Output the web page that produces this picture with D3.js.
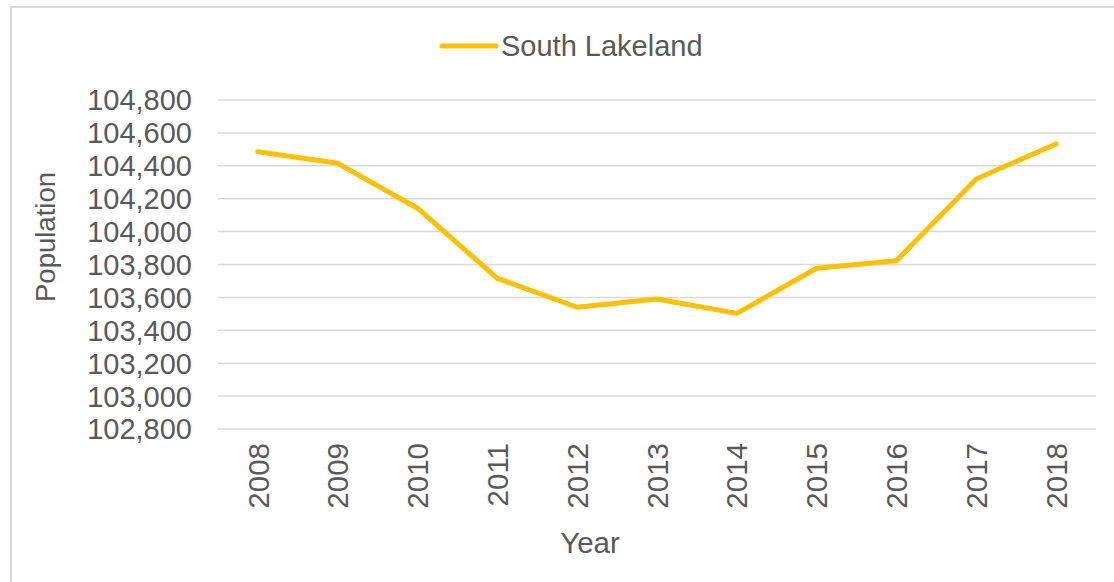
<!DOCTYPE html>
<html>
<head>
<meta charset="utf-8">
<script src="https://cdn.jsdelivr.net/npm/d3@7"></script>
<style>
  body { margin: 0; background: #fff; }
  text { font-family: "Liberation Sans", Arial, sans-serif; fill: #595959; }
</style>
</head>
<body>
<script>
var width = 1114,
    height = 582;

var years = ["2008", "2009", "2010", "2011", "2012", "2013", "2014", "2015", "2016", "2017", "2018"];
var population = [104486, 104415, 104142, 103716, 103540, 103590, 103503, 103777, 103823, 104320, 104533];
var yTicks = [102800, 103000, 103200, 103400, 103600, 103800, 104000, 104200, 104400, 104600, 104800];
var seriesName = "South Lakeland";

var plotLeft = 218, plotRight = 1096, plotTop = 100, plotBottom = 429;

var svg = d3.select("body").append("svg")
    .attr("width", width)
    .attr("height", height);

// chart frame
svg.append("rect")
    .attr("x", 11).attr("y", 7)
    .attr("width", width + 20).attr("height", height + 20)
    .attr("fill", "none")
    .attr("stroke", "#d9d9d9")
    .attr("stroke-width", 2);

var x = d3.scaleBand().domain(years).range([plotLeft, plotRight]);
var y = d3.scaleLinear().domain([102800, 104800]).range([plotBottom, plotTop]);

// gridlines
svg.append("g").selectAll("line")
    .data(yTicks)
    .enter().append("line")
    .attr("x1", plotLeft).attr("x2", plotRight)
    .attr("y1", function(d) { return y(d); })
    .attr("y2", function(d) { return y(d); })
    .attr("stroke", "#d9d9d9")
    .attr("stroke-width", 1.5);

// y axis labels
var fmt = d3.format(",");
svg.append("g").selectAll("text")
    .data(yTicks)
    .enter().append("text")
    .attr("x", 192)
    .attr("y", function(d) { return y(d); })
    .attr("dy", "0.36em")
    .attr("text-anchor", "end")
    .attr("font-size", 29)
    .text(function(d) { return fmt(d); });

// x axis labels
svg.append("g").selectAll("text")
    .data(years)
    .enter().append("text")
    .attr("transform", function(d) {
        return "translate(" + (x(d) + x.bandwidth() / 2) + ",443) rotate(-90)";
    })
    .attr("dy", "0.36em")
    .attr("text-anchor", "end")
    .attr("font-size", 29.5)
    .text(function(d) { return d; });

// axis titles
svg.append("text")
    .attr("transform", "translate(55,237) rotate(-90)")
    .attr("text-anchor", "middle")
    .attr("font-size", 27.5)
    .text("Population");

svg.append("text")
    .attr("x", 590).attr("y", 553)
    .attr("text-anchor", "middle")
    .attr("font-size", 29.5)
    .text("Year");

// the line
var line = d3.line()
    .x(function(d, i) { return x(years[i]) + x.bandwidth() / 2; })
    .y(function(d) { return y(d); });

svg.append("path")
    .datum(population)
    .attr("d", line)
    .attr("fill", "none")
    .attr("stroke", "#ffc000")
    .attr("stroke-width", 5)
    .attr("stroke-linecap", "round")
    .attr("stroke-linejoin", "round");

// legend
svg.append("line")
    .attr("x1", 442).attr("x2", 496)
    .attr("y1", 46).attr("y2", 46)
    .attr("stroke", "#ffc000")
    .attr("stroke-width", 5)
    .attr("stroke-linecap", "round");

svg.append("text")
    .attr("x", 501).attr("y", 56)
    .attr("font-size", 29)
    .text(seriesName);
</script>
</body>
</html>
